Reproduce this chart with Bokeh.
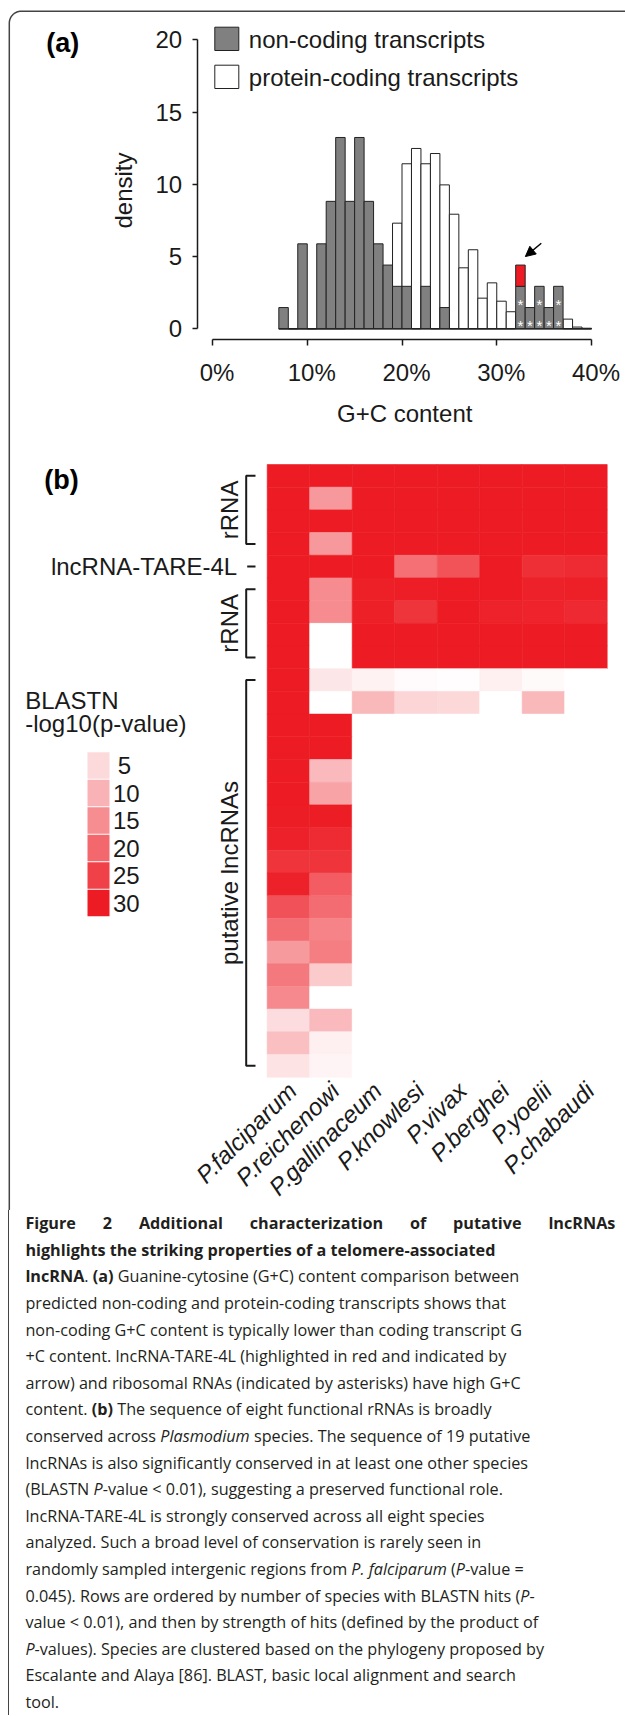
import numpy as np
from bokeh.plotting import figure
from bokeh.models import (Range1d, LinearAxis, FixedTicker, ColumnDataSource,
                          LinearColorMapper, Arrow, NormalHead, Div)
from bokeh.layouts import column
from bokeh.transform import transform
from bokeh.core.properties import value
from bokeh.embed import file_html
from bokeh.resources import INLINE

# ---------------- data: panel (a) ----------------
gc_bin_start = list(range(7, 40))          # G+C content bins (%), width 1%
noncoding_density = [1.47, 0, 5.88, 0, 5.88, 8.82, 13.24, 8.82, 13.24, 8.82, 5.88, 4.41,
                     2.94, 2.94, 0, 2.94, 0, 1.47, 0, 0, 0, 0, 0, 0, 0,
                     2.94, 1.47, 2.94, 1.47, 2.94, 0, 0, 0]
protein_density = [0, 0, 0, 0, 0, 0, 0, 0.05, 0.2, 0.6, 1.5, 3.5,
                   7.31, 11.42, 12.48, 11.42, 12.13, 9.96, 7.93, 4.22, 5.47, 2.12, 3.18, 1.91, 1.18,
                   0.8, 0.5, 0.4, 0.3, 0.3, 0.67, 0.12, 0.04]
tare_bin = 32
density_per_transcript = 1.47
rrna_bins = [32, 32, 33, 34, 34, 35, 36, 36]
rrna_stack = [0, 1, 0, 0, 1, 0, 0, 1]
gc_ticks = [0, 10, 20, 30, 40]
gc_tick_labels = ["0%", "10%", "20%", "30%", "40%"]
density_ticks = [0, 5, 10, 15, 20]
legend_a = ["non-coding transcripts", "protein-coding transcripts"]

# ---------------- data: panel (b) ----------------
species = ["P.falciparum", "P.reichenowi", "P.gallinaceum", "P.knowlesi",
           "P.vivax", "P.berghei", "P.yoelii", "P.chabaudi"]
blastn = [  # -log10(p-value), capped at 30; 0 = no hit
    [30, 30, 30, 30, 30, 30, 30, 30],
    [30, 13.5, 30, 30, 30, 30, 30, 30],
    [30, 30, 30, 30, 30, 30, 30, 30],
    [30, 13.5, 30, 30, 30, 30, 30, 30],
    [30, 30, 30, 18.9, 22.7, 30, 27.5, 28.1],
    [30, 15.2, 29.5, 29.7, 30, 30, 29.2, 29.3],
    [30, 15.2, 29.5, 26.7, 30, 29.1, 29.0, 28.2],
    [30, 0, 30, 30, 30, 30, 30, 30],
    [30, 0, 30, 30, 30, 30, 30, 30],
    [30, 3.3, 1.8, 0.5, 0.3, 2.1, 0.8, 0],
    [30, 0, 9.4, 5.6, 5.2, 0, 9.4, 0],
    [30, 30, 0, 0, 0, 0, 0, 0],
    [30, 30, 0, 0, 0, 0, 0, 0],
    [30, 9.1, 0, 0, 0, 0, 0, 0],
    [30, 12.0, 0, 0, 0, 0, 0, 0],
    [29.8, 29.8, 0, 0, 0, 0, 0, 0],
    [29.2, 28.0, 0, 0, 0, 0, 0, 0],
    [26.8, 26.8, 0, 0, 0, 0, 0, 0],
    [29.2, 21.5, 0, 0, 0, 0, 0, 0],
    [22.9, 19.4, 0, 0, 0, 0, 0, 0],
    [19.2, 16.3, 0, 0, 0, 0, 0, 0],
    [13.3, 17.0, 0, 0, 0, 0, 0, 0],
    [17.6, 7.1, 0, 0, 0, 0, 0, 0],
    [15.5, 0, 0, 0, 0, 0, 0, 0],
    [4.6, 9.1, 0, 0, 0, 0, 0, 0],
    [8.5, 2.0, 0, 0, 0, 0, 0, 0],
    [3.7, 1.5, 0, 0, 0, 0, 0, 0],
]
row_groups = [("rRNA", 0, 3), ("rRNA", 5, 8), ("putative lncRNAs", 9, 26)]
tare_row = 4
tare_label = "lncRNA-TARE-4L"
legend_b_values = [5, 10, 15, 20, 25, 30]
legend_b_title = ["BLASTN", "-log10(p-value)"]

caption_lines = [
    "<b>Figure 2 Additional characterization of putative lncRNAs</b>",
    "<b>highlights the striking properties of a telomere-associated</b>",
    "<b>lncRNA</b>. <b>(a)</b> Guanine-cytosine (G+C) content comparison between",
    "predicted non-coding and protein-coding transcripts shows that",
    "non-coding G+C content is typically lower than coding transcript G",
    "+C content. lncRNA-TARE-4L (highlighted in red and indicated by",
    "arrow) and ribosomal RNAs (indicated by asterisks) have high G+C",
    "content. <b>(b)</b> The sequence of eight functional rRNAs is broadly",
    "conserved across <i>Plasmodium</i> species. The sequence of 19 putative",
    "lncRNAs is also significantly conserved in at least one other species",
    "(BLASTN <i>P</i>-value &lt; 0.01), suggesting a preserved functional role.",
    "lncRNA-TARE-4L is strongly conserved across all eight species",
    "analyzed. Such a broad level of conservation is rarely seen in",
    "randomly sampled intergenic regions from <i>P. falciparum</i> (<i>P</i>-value =",
    "0.045). Rows are ordered by number of species with BLASTN hits (<i>P</i>-",
    "value &lt; 0.01), and then by strength of hits (defined by the product of",
    "<i>P</i>-values). Species are clustered based on the phylogeny proposed by",
    "Escalante and Alaya [86]. BLAST, basic local alignment and search",
    "tool.",
]

# ---------------- layout helpers (page pixel coordinates) ----------------
W, H = 625, 1210
CAP_H = 505
FONT = value("Liberation Sans")
INK = "#1a1a1a"


def rng(v1, p1, v2, p2, size, vertical=False):
    k = (v2 - v1) / (p2 - p1)
    a = v1 - p1 * k
    b = v1 + (size - p1) * k
    return Range1d(start=b, end=a) if vertical else Range1d(start=a, end=b)


def at(v1, p1, v2, p2, p):
    return v1 + (p - p1) * (v2 - v1) / (p2 - p1)


p = figure(width=W, height=H, x_range=Range1d(0, W), y_range=Range1d(H, 0),
           x_axis_type=None, y_axis_type=None, toolbar_location=None,
           output_backend="svg", min_border=0, outline_line_color=None,
           background_fill_color="white", border_fill_color="white")
p.extra_x_ranges = {"gc": rng(0, 212, 40, 591, W), "sp": rng(0, 266.7, 8, 606.7, W)}
p.extra_y_ranges = {"dens": rng(0, 328.3, 20, 39.3, H, True),
                    "rw": rng(0, 464, 27, 1076.7, H, True)}
p.grid.visible = False

# frame border (rounded corner)
r = 12
t = np.linspace(0, np.pi / 2, 16)
bx = [8.8] + list(8.8 + r - r * np.cos(t)) + [W]
by = [H] + list(10.7 + r - r * np.sin(t)) + [10.7]
p.line(bx, by, line_color="#444444", line_width=1.5)

# ---------------- panel (a) ----------------
lefts = np.array(gc_bin_start, dtype=float)
ha = dict(x_range_name="gc", y_range_name="dens")
p.quad(left=lefts, right=lefts + 1, bottom=0, top=protein_density,
       fill_color="white", line_color="#222222", line_width=1, **ha)
p.quad(left=lefts, right=lefts + 1, bottom=0, top=noncoding_density,
       fill_color="#808080", line_color="#222222", line_width=1, **ha)
i32 = gc_bin_start.index(tare_bin)
p.quad(left=[tare_bin], right=[tare_bin + 1], bottom=[noncoding_density[i32]],
       top=[noncoding_density[i32] + density_per_transcript],
       fill_color="#ED1C24", line_color="#222222", line_width=1, **ha)
p.segment(x0=[gc_bin_start[0]], x1=[gc_bin_start[-1] + 1], y0=[0], y1=[0],
          line_color="#222222", line_width=1, **ha)
p.text(x=[b + 0.5 for b in rrna_bins],
       y=[(s + 0.5) * density_per_transcript for s in rrna_stack],
       text=["*"] * len(rrna_bins), text_color="white", text_font=FONT,
       text_font_size="15px", text_align="center", text_baseline="middle",
       y_offset=7.5, **ha)
p.add_layout(Arrow(end=NormalHead(size=10, fill_color="black", line_color="black"),
                   x_start=34.70, y_start=5.92, x_end=33.02, y_end=5.00,
                   line_width=1.5, line_color="black", **ha))

yax = LinearAxis(x_range_name="gc", y_range_name="dens",
                 fixed_location=at(0, 212, 40, 591, 196.7), bounds=(0, 20),
                 ticker=FixedTicker(ticks=density_ticks))
xax = LinearAxis(x_range_name="gc", y_range_name="dens",
                 fixed_location=at(0, 328.3, 20, 39.3, 339.3), bounds=(0, 40),
                 ticker=FixedTicker(ticks=gc_ticks))
for ax in (yax, xax):
    ax.axis_line_color = INK
    ax.axis_line_width = 1.5
    ax.major_tick_line_color = INK
    ax.major_tick_line_width = 1.5
    ax.major_tick_in = 0
    ax.minor_tick_in = 0
    ax.minor_tick_out = 0
    ax.major_label_text_font = "Liberation Sans"
    ax.major_label_text_font_size = "24px"
    ax.major_label_text_color = INK
yax.major_tick_out = 5
yax.major_label_standoff = 10
xax.major_tick_out = 6
xax.major_label_text_color = None      # labels drawn below, nudged as in the original
p.add_layout(yax, "left")
p.add_layout(xax, "below")

txt = dict(text_font=FONT, text_font_size="24px", text_color=INK)
p.text(x=gc_ticks, y=[371.7] * len(gc_ticks), text=gc_tick_labels, x_offset=4.5,
       text_align="center", text_baseline="middle", x_range_name="gc", **txt)
p.text(x=[123.3], y=[190], text=["density"], angle=np.pi / 2, text_align="center",
       text_baseline="middle", **txt)
p.text(x=[404.2], y=[412.5], text=["G+C content"], text_align="center",
       text_baseline="middle", **txt)
p.text(x=[45.8, 43.8], y=[42.5, 479.2], text=["(a)", "(b)"], text_align="left",
       text_baseline="middle", text_font_style="bold", text_font=FONT,
       text_font_size="27px", text_color="black")
# legend (a)
p.quad(left=[214.3, 214.3], right=[238.3, 238.3], top=[26.7, 64.7], bottom=[50, 88],
       fill_color=["#808080", "white"], line_color="#222222", line_width=1)
p.text(x=[248.3, 248.3], y=[39, 76.7], text=legend_a, text_align="left",
       text_baseline="middle", **txt)

# ---------------- panel (b) ----------------
red = np.array([237, 28, 36])
palette = ["#%02x%02x%02x" % tuple(np.round(255 + (red - 255) * f).astype(int))
           for f in np.linspace(0, 1, 256)]
mapper = LinearColorMapper(palette=palette, low=0, high=30)

cl, cr, ct, cb, cv = [], [], [], [], []
for ri, row in enumerate(blastn):
    for ci, v in enumerate(row):
        cl.append(ci); cr.append(ci + 1); ct.append(ri); cb.append(ri + 1); cv.append(v)
hsrc = ColumnDataSource(dict(left=cl, right=cr, top=ct, bottom=cb, v=cv))
p.quad(left="left", right="right", top="top", bottom="bottom", source=hsrc,
       fill_color=transform("v", mapper), line_color=transform("v", mapper),
       line_width=0.6, x_range_name="sp", y_range_name="rw")

p.text(x=[i + 0.5 for i in range(len(species))], y=[len(blastn)] * len(species),
       text=species, angle=np.pi / 4, text_align="right", text_baseline="middle",
       text_font_style="italic", x_offset=4, y_offset=9.3,
       x_range_name="sp", y_range_name="rw", **txt)

# row annotations
bxs, bys = [], []
for name, r0, r1 in row_groups:
    bxs.append([255, 245.7, 245.7, 255])
    bys.append([r0 + 0.5, r0 + 0.5, r1 + 0.5, r1 + 0.5])
p.multi_line(bxs, bys, line_color=INK, line_width=2, y_range_name="rw")
p.text(x=[228.5] * len(row_groups), y=[(g[1] + g[2]) / 2 + 0.5 for g in row_groups],
       text=[g[0] for g in row_groups], angle=np.pi / 2, text_align="center",
       text_baseline="middle", y_range_name="rw", **txt)
p.segment(x0=[246.7], x1=[255], y0=[tare_row + 0.5], y1=[tare_row + 0.5],
          line_color=INK, line_width=2, y_range_name="rw")
p.text(x=[236.7], y=[tare_row + 0.5], text=[tare_label], text_align="right",
       text_baseline="middle", y_range_name="rw", **txt)

# colour legend (b)
ltops = [751.7 + 27.5 * k for k in range(len(legend_b_values))]
lsrc = ColumnDataSource(dict(top=ltops, bottom=[tp + 26.5 for tp in ltops],
                             v=legend_b_values))
p.quad(left=87, right=109, top="top", bottom="bottom", source=lsrc,
       fill_color=transform("v", mapper), line_color=None)
p.text(x=[112.5] * len(legend_b_values), y=[tp + 13.3 for tp in ltops],
       text=[str(v) for v in legend_b_values],
       x_offset=[4.8 if v < 10 else 0 for v in legend_b_values],
       text_align="left", text_baseline="middle", **txt)
p.text(x=[24.7, 24.7], y=[700, 723], text=legend_b_title, text_align="left",
       text_baseline="middle", **txt)

# ---------------- caption ----------------
rows_html = []
for k, line in enumerate(caption_lines):
    style = "text-align:justify;text-align-last:justify;width:590px;" if k == 0 else ""
    rows_html.append('<div style="%s">%s</div>' % (style, line))
cap_html = ('<div style="font-family:\'Open Sans\';font-size:16.2px;line-height:26.6px;'
            'color:#231f20;margin-left:8px;border-left:1.5px solid #444444;padding-left:16.4px;'
            'padding-top:0.2px;height:%dpx;box-sizing:border-box;white-space:nowrap;">' % CAP_H
            + "".join(rows_html) + "</div>")
cap = Div(text=cap_html, width=W, height=CAP_H, margin=(0, 0, 0, 0))

layout = column(p, cap, spacing=0)
open("out.html", "w").write(file_html(layout, INLINE))
